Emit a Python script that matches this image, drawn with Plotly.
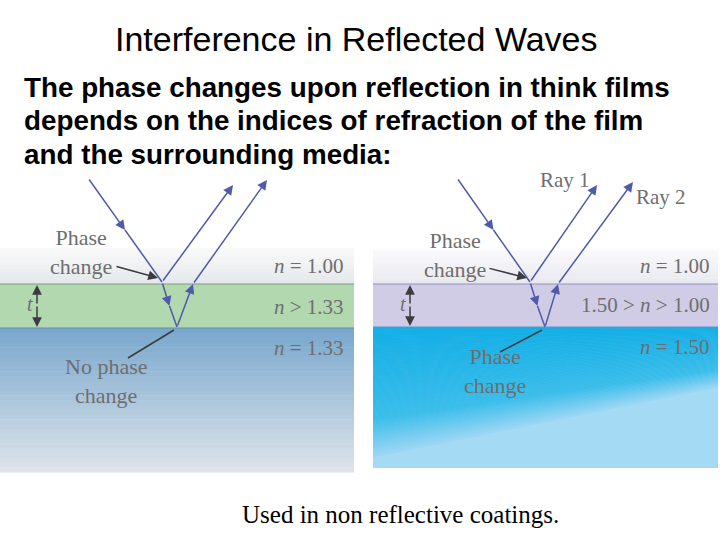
import plotly.graph_objects as go

title = "Interference in Reflected Waves"
body_lines = ["The phase changes upon reflection in think films",
              "depends on the indices of refraction of the film",
              "and the surrounding media:"]
footer = "Used in non reflective coatings."
left_n = ["n = 1.00", "n > 1.33", "n = 1.33"]
right_n = ["n = 1.00", "1.50 > n > 1.00", "n = 1.50"]
left_notes = ["Phase<br>change", "No phase<br>change"]
right_notes = ["Phase<br>change", "Phase<br>change"]
ray_names = ["Ray 1", "Ray 2"]

fig = go.Figure()
shapes = []
ann = []

def rect(x0, y0, x1, y1, color):
    shapes.append(dict(type="rect", x0=x0, y0=y0, x1=x1, y1=y1, fillcolor=color, line_width=0, layer="below"))

def lerp(c1, c2, t):
    return "rgb(%d,%d,%d)" % tuple(int(a + (b - a) * t) for a, b in zip(c1, c2))

N = 30
for i in range(N):
    y0 = 248 + i * 36 / N
    rect(0, y0, 354, y0 + 36 / N + 0.5, lerp((250, 250, 250), (228, 232, 235), i / N))
rect(0, 284, 354, 328, "rgb(178,216,176)")
for i in range(N):
    y0 = 328 + i * 144 / N
    rect(0, y0, 354, y0 + 144 / N + 0.5, lerp((122, 168, 205), (225, 230, 236), i / N))
for i in range(N):
    y0 = 250 + i * 34 / N
    rect(373, y0, 718, y0 + 34 / N + 0.5, lerp((250, 250, 252), (232, 232, 240), i / N))
rect(373, 284, 718, 327, "rgb(208,204,230)")
rect(373, 327, 718, 468, "rgb(165,218,245)")
M = 60
for i in range(M):
    t = i / M
    yl0 = 327 + t * 130
    yr0 = 327 + t * 60
    yl1 = 327 + (i + 1) / M * 130
    yr1 = 327 + (i + 1) / M * 60
    c = lerp((20, 175, 230), (60, 190, 235), t / 0.7) if t < 0.7 else lerp((60, 190, 235), (160, 216, 244), (t - 0.7) / 0.3)
    shapes.append(dict(type="path", path=f"M373,{yl0} L718,{yr0} L718,{yr1+0.5} L373,{yl1+0.5} Z",
                       fillcolor=c, line_width=0, layer="below"))
shapes.append(dict(type="line", x0=0, x1=354, y0=284, y1=284, line=dict(color="rgb(120,160,120)", width=1)))
shapes.append(dict(type="line", x0=0, x1=354, y0=328, y1=328, line=dict(color="rgb(100,140,170)", width=1)))
shapes.append(dict(type="line", x0=373, x1=718, y0=284, y1=284, line=dict(color="rgb(150,145,190)", width=1)))
shapes.append(dict(type="line", x0=373, x1=718, y0=327, y1=327, line=dict(color="rgb(90,150,200)", width=1)))

ray = "rgb(80,90,170)"
def line(x0, y0, x1, y1, c=ray):
    shapes.append(dict(type="line", x0=x0, y0=y0, x1=x1, y1=y1, line=dict(color=c, width=1.5)))
def arrow(x0, y0, x1, y1, c=ray):
    ann.append(dict(x=x1, y=y1, ax=x0, ay=y0, xref="x", yref="y", axref="x", ayref="y", text="",
                    showarrow=True, arrowhead=2, arrowsize=1.3, arrowwidth=1.5, arrowcolor=c))

for dx, (xa, xb, xc, xd, xe, xf) in [(0, (88, 162, 233, 177, 193, 267)), (1, (457, 530, 597, 545, 558, 633))]:
    arrow(xa, 178, (xa + xb) / 2, 230)
    line((xa + xb) / 2, 230, xb, 282)
    arrow(xb, 282, xc, 185)
    arrow(xb, 282, (xb + xd) / 2, 306)
    line((xb + xd) / 2, 306, xd, 327)
    arrow(xd, 327, xe, 284)
    arrow(xe, 284, xf, 182 if dx else 180)

arrow(115, 266, 158, 278, "rgb(60,60,60)")
line(128, 358, 174, 330, "rgb(60,60,60)")
arrow(488, 268, 527, 278, "rgb(60,60,60)")
line(500, 352, 542, 330, "rgb(60,60,60)")
arrow(37, 305, 37, 285, "rgb(60,60,60)")
arrow(37, 305, 37, 327, "rgb(60,60,60)")
arrow(410, 305, 410, 285, "rgb(60,60,60)")
arrow(410, 305, 410, 326, "rgb(60,60,60)")

g = "rgb(110,110,110)"
def txt(x, y, s, size=18, color=g, xanchor="center", font="Liberation Serif"):
    ann.append(dict(x=x, y=y, text=s, showarrow=False, xref="x", yref="y", xanchor=xanchor,
                    font=dict(family=font, size=size, color=color)))

txt(81, 252, left_notes[0], 22)
txt(106, 381, left_notes[1], 22)
txt(455, 255, right_notes[0], 22)
txt(495, 371, right_notes[1], 22)
txt(30, 304, "<i>t</i>", 20)
txt(403, 304, "<i>t</i>", 20)
for y, s in zip([266, 307, 348], left_n):
    txt(346, y, s.replace("n", "<i>n</i>", 1), 21, xanchor="right")
for y, s in zip([266, 305, 347], right_n):
    txt(712, y, s.replace("n ", "<i>n</i> ", 1) if not s.startswith("n") else s.replace("n", "<i>n</i>", 1), 21, xanchor="right")
txt(565, 180, ray_names[0], 21)
txt(661, 197, ray_names[1], 21)

txt(356, 39, title, 34, "black", font="Liberation Sans")
for y, s in zip([87, 120, 154], body_lines):
    txt(22, y, "<b>" + s + "</b>", 27.8, "black", xanchor="left", font="Liberation Sans")
txt(400, 514, footer, 25, "black", font="Liberation Serif")

fig.update_layout(width=720, height=540, margin=dict(l=0, r=0, t=0, b=0),
                  paper_bgcolor="white", plot_bgcolor="white", shapes=shapes, annotations=ann,
                  xaxis=dict(range=[0, 720], visible=False, fixedrange=True),
                  yaxis=dict(range=[540, 0], visible=False, fixedrange=True), showlegend=False)
fig.write_html("out.html", config={"displayModeBar": False})
with open("out.html") as f:
    h = f.read()
h = h.replace("<body>", '<body style="margin:0;overflow:hidden">', 1)
with open("out.html", "w") as f:
    f.write(h)
